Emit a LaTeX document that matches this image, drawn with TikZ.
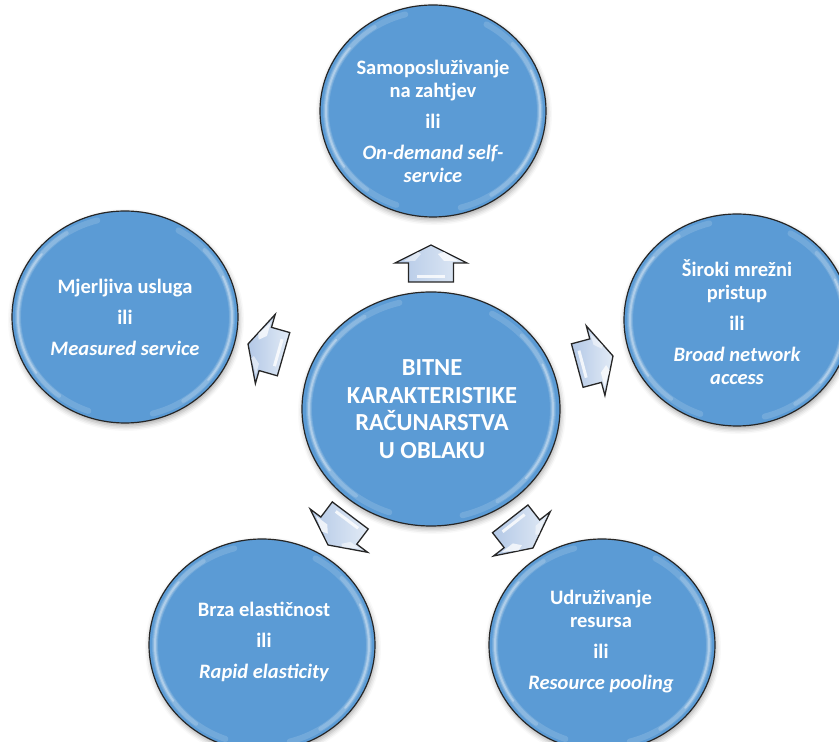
\documentclass[tikz,border=0pt]{standalone}
\usepackage{fontspec}
\setmainfont{Carlito}
\usetikzlibrary{shapes.geometric,shadows.blur,calc}
\definecolor{cblue}{HTML}{5B9BD5}
\definecolor{atop}{HTML}{E2EBF6}
\definecolor{abot}{HTML}{B3C8E6}
\tikzset{
  x=1pt, y=1pt,
  bubble/.style={ellipse, draw=black!85, line width=1.2pt, fill=cblue,
    minimum width=226pt, minimum height=212pt, inner sep=0pt,
    blur shadow={shadow xshift=1pt, shadow yshift=-3pt, shadow blur radius=5pt, shadow opacity=35}},
  bigbubble/.style={bubble, minimum width=258pt, minimum height=234pt},
  btext/.style={text=white, font=\fontsize{20.5}{23}\selectfont\bfseries, align=center, inner sep=0pt},
  ctext/.style={text=white, font=\fontsize{24.5}{27.5}\selectfont\bfseries, align=center, inner sep=0pt},
  rimhl/.style={white, line cap=round},
  blockarrow/.pic={
    \draw[line width=1.3pt, draw=black!85, line join=miter, left color=abot, right color=atop]
      (0,0) -- (-18,36) -- (-18,22.5) -- (-37,22.5) -- (-37,-22.5) -- (-18,-22.5) -- (-18,-36) -- cycle;
    \fill[white, opacity=0.8] (-33,-14) rectangle (-30,14);
    \fill[white, opacity=0.75] (-16,-27) -- (-7,-13) -- (-9,-7) -- (-16,-13) -- cycle;
    \fill[white, opacity=0.5] (-16,27) -- (-7,13) -- (-9,10) -- (-16,16) -- cycle;
  }
}
\newcommand{\glossrim}[3]{%
  \foreach \w/\o/\s in {6/0.14/0,4/0.18/18,2/0.3/36}{%
    \draw[rimhl, line width=\w pt, opacity=\o] ($(#1.center)+(105+\s:#2 and #3)$) arc[start angle=105+\s, end angle=250-\s, x radius=#2, y radius=#3];
    \draw[rimhl, line width=\w pt, opacity=\o] ($(#1.center)+(-75+\s:#2 and #3)$) arc[start angle=-75+\s, end angle=60-\s, x radius=#2, y radius=#3];
  }%
}
\begin{document}
\begin{tikzpicture}
\useasboundingbox (0,0) rectangle (839,742);
% circles
\node[bubble] (T) at (433,631) {};
\node[bubble] (L) at (125,425) {};
\node[bubble] (R) at (737,422) {};
\node[bubble] (BL) at (262,97) {};
\node[bubble] (BR) at (602,97) {};
\node[bigbubble] (C) at (431,333) {};
\glossrim{T}{107}{100}
\glossrim{L}{107}{100}
\glossrim{R}{107}{100}
\glossrim{BL}{107}{100}
\glossrim{BR}{107}{100}
\glossrim{C}{122}{110}
% texts
\node[ctext] (Ct) at (432,333) {BITNE\\KARAKTERISTIKE\\RAČUNARSTVA\\U OBLAKU};
\node[btext] (Tt) at (433,621) {Samoposluživanje\\na zahtjev\\[8pt]ili\\[8pt]\itshape On-demand self-\\\itshape service};
\node[btext] (Lt) at (125,425) {Mjerljiva usluga\\[8pt]ili\\[8pt]\itshape Measured service};
\node[btext] (Rt) at (737,420) {Široki mrežni\\pristup\\[8pt]ili\\[8pt]\itshape Broad network\\\itshape access};
\node[btext] (BLt) at (264,100) {Brza elastičnost\\[8pt]ili\\[8pt]\itshape Rapid elasticity};
\node[btext] (BRt) at (601,100) {Udruživanje\\resursa\\[8pt]ili\\[8pt]\itshape Resource pooling};
% arrows
\coordinate (aT) at (431,497);
\coordinate (aR) at (613,386);
\coordinate (aL) at (248,398);
\coordinate (aBL) at (328,197);
\coordinate (aBR) at (533,194);
\pic[rotate=90] at (aT) {blockarrow};
\pic[rotate=15] at (aR) {blockarrow};
\pic[rotate=164] at (aL) {blockarrow};
\pic[rotate=233] at (aBL) {blockarrow};
\pic[rotate=-52] at (aBR) {blockarrow};
\end{tikzpicture}
\end{document}
